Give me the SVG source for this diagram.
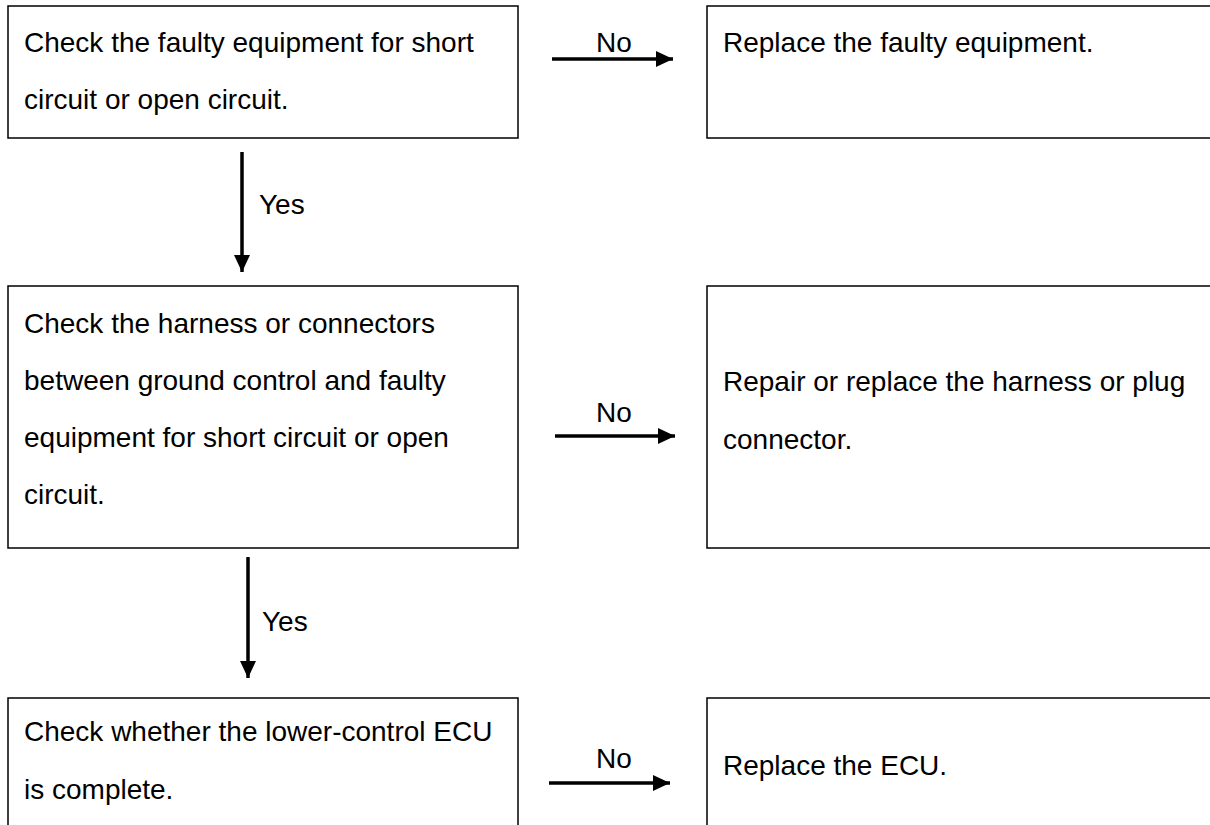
<svg xmlns="http://www.w3.org/2000/svg" width="1210" height="825" viewBox="0 0 1210 825">
  <style>
    .box { fill: #ffffff; stroke: #000000; stroke-width: 1.5; }
    .txt { font-family: "Liberation Sans", Arial, sans-serif; font-size: 28px; fill: #000000; }
    .lbl { font-family: "Liberation Sans", Arial, sans-serif; font-size: 28px; fill: #000000; text-anchor: middle; }
    .wire { stroke: #000000; stroke-width: 3.5; fill: none; }
  </style>
  <defs>
    <marker id="head" markerUnits="userSpaceOnUse" viewBox="0 0 17 16" refX="17" refY="8" markerWidth="17" markerHeight="16" orient="auto">
      <path d="M0,0 L17,8 L0,16 Z" fill="#000000"/>
    </marker>
  </defs>
  <rect width="1210" height="825" fill="#ffffff"/>

  <!-- Step 1 -->
  <g id="check-equipment">
    <rect class="box" x="8" y="6" width="510" height="132"/>
    <text class="txt" x="24" y="52">Check the faulty equipment for short</text>
    <text class="txt" x="24" y="109">circuit or open circuit.</text>
  </g>
  <g id="replace-equipment">
    <rect class="box" x="707" y="6" width="520" height="132"/>
    <text class="txt" x="723" y="52">Replace the faulty equipment.</text>
  </g>

  <!-- Step 2 -->
  <g id="check-harness">
    <rect class="box" x="8" y="286" width="510" height="262"/>
    <text class="txt" x="24" y="333">Check the harness or connectors</text>
    <text class="txt" x="24" y="390">between ground control and faulty</text>
    <text class="txt" x="24" y="447">equipment for short circuit or open</text>
    <text class="txt" x="24" y="504">circuit.</text>
  </g>
  <g id="repair-harness">
    <rect class="box" x="707" y="286" width="520" height="262"/>
    <text class="txt" x="723" y="391">Repair or replace the harness or plug</text>
    <text class="txt" x="723" y="449">connector.</text>
  </g>

  <!-- Step 3 -->
  <g id="check-ecu">
    <rect class="box" x="8" y="698" width="510" height="140"/>
    <text class="txt" x="24" y="741">Check whether the lower-control ECU</text>
    <text class="txt" x="24" y="799">is complete.</text>
  </g>
  <g id="replace-ecu">
    <rect class="box" x="707" y="698" width="520" height="140"/>
    <text class="txt" x="723" y="775">Replace the ECU.</text>
  </g>

  <!-- Connectors -->
  <g id="connectors">
    <line class="wire" x1="552" y1="59" x2="673" y2="59" marker-end="url(#head)"/>
    <text class="lbl" x="614" y="52">No</text>

    <line class="wire" x1="242" y1="152" x2="242" y2="272" marker-end="url(#head)"/>
    <text class="txt" x="259" y="214">Yes</text>

    <line class="wire" x1="555" y1="436" x2="675" y2="436" marker-end="url(#head)"/>
    <text class="lbl" x="614" y="422">No</text>

    <line class="wire" x1="248" y1="557" x2="248" y2="678" marker-end="url(#head)"/>
    <text class="txt" x="262" y="631">Yes</text>

    <line class="wire" x1="549" y1="783" x2="670" y2="783" marker-end="url(#head)"/>
    <text class="lbl" x="614" y="768">No</text>
  </g>
</svg>
